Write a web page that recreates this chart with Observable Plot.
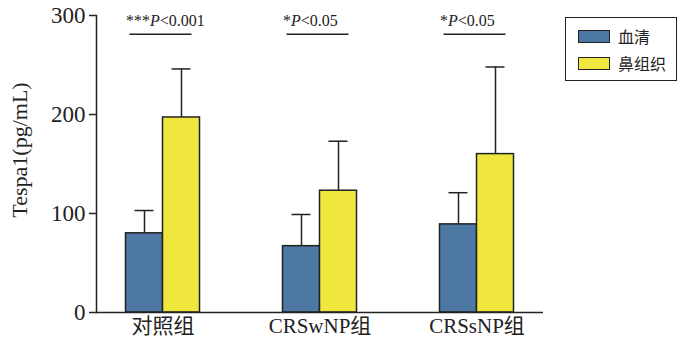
<!DOCTYPE html>
<html><head><meta charset="utf-8">
<script src="https://cdn.jsdelivr.net/npm/d3@7"></script>
<script src="https://cdn.jsdelivr.net/npm/@observablehq/plot@0.6"></script>
<style>
body{margin:0;background:#fff;}
#wrap{position:relative;width:677px;height:345px;font-family:"Liberation Serif","Noto Sans CJK SC",serif;}
#legend{position:absolute;left:565px;top:17px;width:110px;height:62px;border:1.5px solid #222;background:#fff;}
.item{position:absolute;left:12px;display:flex;align-items:center;font-size:16px;color:#222;}
.sw{width:30px;height:11px;border:1.5px solid #222;margin-right:8px;}
</style></head>
<body><div id="wrap"></div>
<script>
const groups = ["对照组", "CRSwNP组", "CRSsNP组"];
const seriesNames = ["血清", "鼻组织"];
const serumMean = [80, 67, 89];
const serumUpper = [103, 99, 121];
const tissueMean = [197, 123, 160];
const tissueUpper = [246, 173, 248];
const sigLabels = ["***P<0.001", "*P<0.05", "*P<0.05"];
const yTicks = [0, 100, 200, 300];
const sigLevel = 281;
const sigTextLevel = 295;
const colors = ["#4e78a4", "#efe63e"];

const serum = groups.map((g, i) => ({g, v: serumMean[i], e: serumUpper[i]}));
const tissue = groups.map((g, i) => ({g, v: tissueMean[i], e: tissueUpper[i]}));
const sig = groups.map((g, i) => ({g, t: sigLabels[i]}));

const off = 18.5;
const ink = "#222";
const chart = Plot.plot({
  width: 677, height: 345,
  marginLeft: 96, marginRight: 134, marginTop: 15, marginBottom: 33,
  style: {fontFamily: '"Liberation Serif","Noto Sans CJK SC",serif', color: ink, background: "#fff"},
  x: {domain: groups, paddingInner: 0.7636, paddingOuter: 0.3035, label: null},
  y: {domain: [0, 300], label: null},
  marks: [
    Plot.ruleX(serum, {x: "g", y1: "v", y2: "e", dx: -off, stroke: ink, strokeWidth: 1.5}),
    Plot.tickY(serum, {x: "g", y: "e", dx: -off, insetLeft: 9, insetRight: 9, stroke: ink, strokeWidth: 1.5}),
    Plot.ruleX(tissue, {x: "g", y1: "v", y2: "e", dx: off, stroke: ink, strokeWidth: 1.5}),
    Plot.tickY(tissue, {x: "g", y: "e", dx: off, insetLeft: 9, insetRight: 9, stroke: ink, strokeWidth: 1.5}),
    Plot.barY(serum, {x: "g", y: "v", dx: -off, fill: colors[0], stroke: ink, strokeWidth: 1.5}),
    Plot.barY(tissue, {x: "g", y: "v", dx: off, fill: colors[1], stroke: ink, strokeWidth: 1.5}),
    Plot.tickY(sig, {x: "g", y: () => sigLevel, dx: -2, insetLeft: -12.5, insetRight: -12.5, stroke: ink, strokeWidth: 1.5}),
    Plot.text(sig, {x: "g", y: () => sigTextLevel, text: "t", dx: -37, textAnchor: "start", fontSize: 16, fill: ink}),
    Plot.frame({anchor: "left", stroke: ink, strokeWidth: 1.5}),
    Plot.ruleY([0], {stroke: ink, strokeWidth: 1.5}),
    Plot.axisY({ticks: yTicks, tickSize: 7, tickPadding: 4, fontSize: 23, stroke: ink, strokeWidth: 1.5, label: null}),
    Plot.axisX({tickSize: 0, tickPadding: 6, fontSize: 21, label: null})
  ]
});
const wrap = document.getElementById("wrap");
wrap.appendChild(chart);

// italic P in significance labels
chart.querySelectorAll("text").forEach(t => {
  const s = t.textContent;
  const k = s.indexOf("P<");
  if (k >= 0 && t.children.length === 0) {
    t.textContent = "";
    const ns = "http://www.w3.org/2000/svg";
    const a = document.createElementNS(ns, "tspan"); a.textContent = s.slice(0, k);
    const b = document.createElementNS(ns, "tspan"); b.textContent = "P"; b.setAttribute("font-style", "italic");
    const c = document.createElementNS(ns, "tspan"); c.textContent = s.slice(k + 1);
    t.append(a, b, c);
  }
});

// y axis title
const svgns = "http://www.w3.org/2000/svg";
const yl = document.createElementNS(svgns, "text");
yl.setAttribute("transform", "translate(27,150) rotate(-90)");
yl.setAttribute("text-anchor", "middle");
yl.setAttribute("font-size", "22");
yl.setAttribute("fill", ink);
yl.textContent = "Tespa1(pg/mL)";
chart.appendChild(yl);

// legend
const lg = document.createElement("div");
lg.id = "legend";
seriesNames.forEach((n, i) => {
  const it = document.createElement("div");
  it.className = "item";
  it.style.top = (i === 0 ? 6 : 33) + "px";
  it.innerHTML = `<div class="sw" style="background:${colors[i]}"></div><span>${n}</span>`;
  lg.appendChild(it);
});
wrap.appendChild(lg);
</script></body></html>
